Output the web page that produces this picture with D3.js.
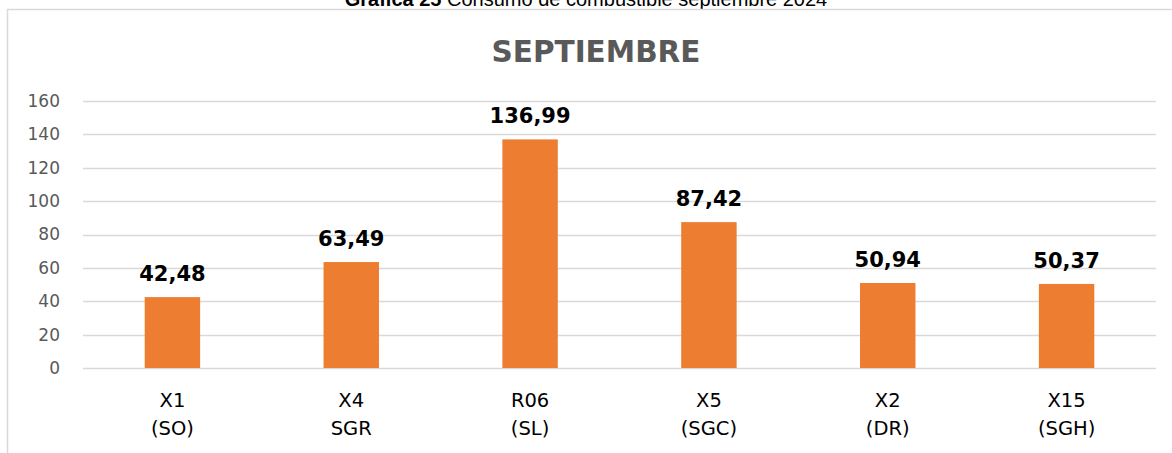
<!DOCTYPE html>
<html>
<head>
<meta charset="utf-8">
<script src="https://cdn.jsdelivr.net/npm/d3@7"></script>
<style>
  body { margin: 0; background: #fff; }
  svg { display: block; }
</style>
</head>
<body>
<svg id="chart" width="1172" height="453"></svg>
<script>
const categories = [["X1", "(SO)"], ["X4", "SGR"], ["R06", "(SL)"], ["X5", "(SGC)"], ["X2", "(DR)"], ["X15", "(SGH)"]];
const values = [42.48, 63.49, 136.99, 87.42, 50.94, 50.37];
const yTicks = [0, 20, 40, 60, 80, 100, 120, 140, 160];

const svg = d3.select("#chart");
const width = 1172, height = 453;

const plot = { left: 83, right: 1156, top: 101, bottom: 368 };

// caption above the chart box (cut at the top in the source)
const cap = svg.append("text")
  .attr("x", 586)
  .attr("y", 6)
  .attr("text-anchor", "middle")
  .style("font-family", "Liberation Sans, Arial, sans-serif")
  .style("font-size", "20px")
  .style("fill", "#000");
cap.append("tspan").style("font-weight", "bold").text("Gráfica 25");
cap.append("tspan").text(" Consumo de combustible septiembre 2024");

// chart frame
svg.append("path")
  .attr("d", `M7.5,${height} L7.5,9.5 L${width},9.5`)
  .attr("fill", "none")
  .attr("stroke", "#d9d9d9")
  .attr("stroke-width", 1.5);

svg.append("text")
  .attr("x", 596)
  .attr("y", 62)
  .attr("text-anchor", "middle")
  .style("font-family", "DejaVu Sans, Verdana, sans-serif")
  .style("font-weight", "bold")
  .style("font-size", "29.5px")
  .style("fill", "#595959")
  .text("SEPTIEMBRE");

const x = d3.scaleBand()
  .domain(categories.map((d, i) => i))
  .range([plot.left, plot.right])
  .paddingInner(0.69)
  .paddingOuter(0.345);

const y = d3.scaleLinear()
  .domain([0, 160])
  .range([plot.bottom, plot.top]);

// gridlines
svg.append("g")
  .selectAll("line")
  .data(yTicks)
  .enter()
  .append("line")
  .attr("x1", plot.left)
  .attr("x2", plot.right)
  .attr("y1", d => Math.round(y(d)) + 0.5)
  .attr("y2", d => Math.round(y(d)) + 0.5)
  .attr("stroke", "#d9d9d9")
  .attr("stroke-width", 1.3);

// y tick labels
const yAxis = svg.append("g")
  .attr("transform", `translate(${plot.left - 23},0)`)
  .call(d3.axisLeft(y).tickValues(yTicks).tickSize(0).tickPadding(0));
yAxis.select(".domain").remove();
yAxis.selectAll("text")
  .style("font-family", "DejaVu Sans, Verdana, sans-serif")
  .style("font-size", "17px")
  .style("fill", "#595959");

// bars
svg.selectAll(".bar")
  .data(values)
  .enter()
  .append("rect")
  .attr("class", "bar")
  .attr("x", (d, i) => x(i))
  .attr("width", x.bandwidth())
  .attr("y", d => y(d))
  .attr("height", d => y(0) - y(d))
  .attr("fill", "#ed7d31");

// value labels
svg.selectAll(".val")
  .data(values)
  .enter()
  .append("text")
  .attr("class", "val")
  .attr("x", (d, i) => x(i) + x.bandwidth() / 2)
  .attr("y", d => y(d) - 16)
  .attr("text-anchor", "middle")
  .style("font-family", "DejaVu Sans, Verdana, sans-serif")
  .style("font-weight", "bold")
  .style("font-size", "21px")
  .style("fill", "#000")
  .text(d => d.toFixed(2).replace(".", ","));

// category labels (two lines)
const cat = svg.selectAll(".cat")
  .data(categories)
  .enter()
  .append("text")
  .attr("class", "cat")
  .attr("text-anchor", "middle")
  .style("font-family", "DejaVu Sans, Verdana, sans-serif")
  .style("font-size", "19.5px")
  .style("fill", "#000");
cat.append("tspan")
  .attr("x", (d, i) => x(i) + x.bandwidth() / 2)
  .attr("y", 407)
  .text(d => d[0]);
cat.append("tspan")
  .attr("x", (d, i) => x(i) + x.bandwidth() / 2)
  .attr("y", 435)
  .text(d => d[1]);
</script>
</body>
</html>
